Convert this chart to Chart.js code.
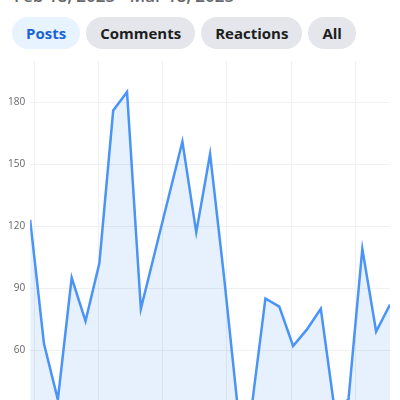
<!DOCTYPE html>
<html>
<head>
<meta charset="utf-8">
<script src="https://cdn.jsdelivr.net/npm/chart.js@4"></script>
<style>
  html, body { margin: 0; width: 400px; height: 400px; overflow: hidden; background: #fff; font-family: "Open Sans", Roboto, sans-serif; }
  #range { position: absolute; top: -16px; left: 14px; font-size: 17px; color: #65676b; font-weight: 600; }
  #tabs { position: absolute; top: 17px; left: 12px; display: flex; gap: 6px; }
  .tab { height: 32px; line-height: 32px; padding: 0 14px; border-radius: 16px; background: #e4e6eb; color: #1c1e21; font-weight: 700; font-size: 15px; }
  .tab.on { background: #e7f3ff; color: #1b63d6; }
  #wrap { position: absolute; left: 0; top: 50px; width: 400px; height: 373px; }
</style>
</head>
<body>
<div id="range">Feb 18, 2025 - Mar 18, 2025</div>
<div id="tabs">
  <div class="tab on">Posts</div>
  <div class="tab">Comments</div>
  <div class="tab">Reactions</div>
  <div class="tab">All</div>
</div>
<div id="wrap"><canvas id="chart"></canvas></div>
<script>
let days = [];
for (let d = 0; d < 27; d++) days.push(d);

let posts = [123, 63, 36, 95, 74, 102, 176, 185, 80, 107, 134, 161, 117, 155,
             96, 32, 32, 85, 81, 62, 70, 80, 31, 36, 109, 69, 82];

let yTicks = [30, 60, 90, 120, 150, 180];

let ctx = document.getElementById('chart').getContext('2d');

let chart = new Chart(ctx, {
    type: 'line',
    data: {
        labels: days,
        datasets: [{
            data: posts,
            borderColor: '#4a93f7',
            borderWidth: 2.5,
            backgroundColor: 'rgba(24, 119, 242, 0.1)',
            fill: 'start',
            pointRadius: 0,
            tension: 0
        }]
    },
    options: {
        responsive: true,
        maintainAspectRatio: false,
        animation: false,
        layout: { padding: { left: 3, right: 10, top: 0, bottom: 0 } },
        plugins: { legend: { display: false }, tooltip: { enabled: false } },
        scales: {
            x: {
                type: 'linear',
                min: 0,
                max: 26,
                afterBuildTicks: axis => {
                    axis.ticks = [];
                    for (let k = 0; k < 6; k++) axis.ticks.push({ value: 0.29 + k * 4.64 });
                },
                ticks: { display: false },
                grid: { color: '#f0f0f0', drawTicks: false },
                border: { display: false }
            },
            y: {
                min: 30,
                max: 200,
                afterBuildTicks: axis => {
                    axis.ticks = yTicks.map(v => ({ value: v }));
                },
                ticks: { color: '#65676b', font: { size: 10, family: 'Open Sans' }, padding: 5 },
                grid: { color: '#f0f0f0', drawTicks: false },
                border: { display: false }
            }
        }
    }
});
</script>
</body>
</html>
